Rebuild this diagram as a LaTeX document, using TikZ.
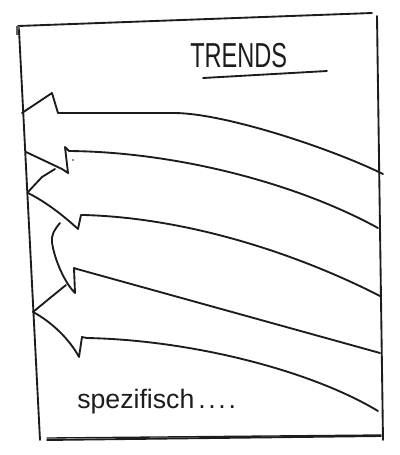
\documentclass[tikz,border=0pt]{standalone}
\usepackage{fontspec}
\usepackage{graphicx}
\setmainfont{Liberation Sans}
\definecolor{ink}{HTML}{1C1C1C}
\begin{document}
\begin{tikzpicture}[x=0.75pt,y=-0.75pt,
  sk/.style={line width=1.4pt, draw=ink, line cap=round, line join=round},
  lbl/.style={text=ink, anchor=base west, inner sep=0pt}]
\useasboundingbox (0,0) rectangle (400,455);
% frame
\draw[sk] (18,26) -- (372,13);
\draw[line width=2.4pt, draw=ink!70] (18,26) -- (18,35);
\draw[sk] (19,30) -- (40,440);
\draw[sk] (377,16) -- (383,440);
\draw[sk] (47,440) -- (381,436);
\draw[sk, line width=1pt] (47,438) -- (381,435);
% title
\node[lbl, font=\fontsize{26}{26}\selectfont] (title) at (190,67) {\scalebox{0.68}[1]{TRENDS}};
\draw[sk] (203,78) -- (327,71);
% arrow 1
\draw[sk] (22,113) -- (52,93) -- (58,113) -- (175,113)
  .. controls (225,113.5) and (330,148) .. (383,174);
\fill[ink] (73,160) circle (0.9);
% arrow 2
\draw[sk] (26,152) -- (62,169) -- (68,173) -- (65,147) -- (69,151)
  .. controls (180,152) and (300,185) .. (378,228);
\draw[sk] (55,169) -- (42,177) -- (28,192);
% arrow 3
\draw[sk] (28,193) .. controls (48,203) and (66,218) .. (78,229)
  -- (81,215) -- (84,215)
  .. controls (190,218) and (300,255) .. (380,296);
% arrow 4
\draw[sk] (60,223) .. controls (54,230) and (51,236) .. (52,242)
  .. controls (54,258) and (64,282) .. (75,293)
  -- (74,268) -- (77,269) -- (380,353);
\draw[sk] (66,285) -- (50,298) -- (33,312);
% arrow 5
\draw[sk] (33,312) .. controls (52,322) and (70,340) .. (79,357)
  -- (82,337) -- (87,338)
  .. controls (190,340) and (310,370) .. (378,411);
% bottom text
\node[lbl, font=\fontsize{20}{20}\selectfont] (spec) at (77,408) {spezifisch\hspace{0.15em}.\hspace{0.1em}.\hspace{0.1em}.\hspace{0.1em}.};
\end{tikzpicture}
\end{document}
